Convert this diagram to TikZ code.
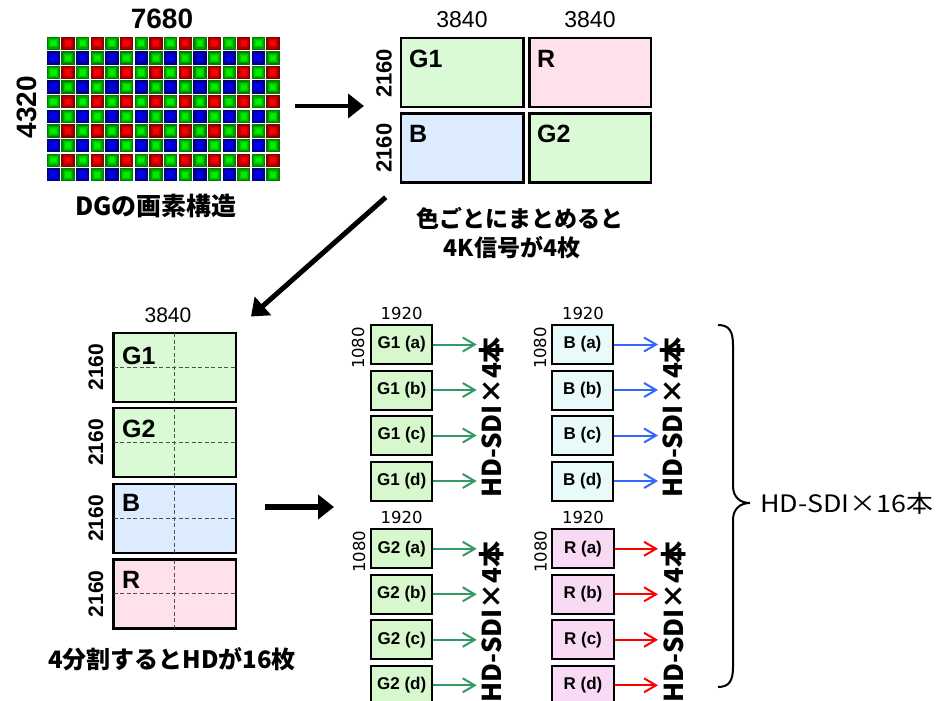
\documentclass[tikz,border=0pt]{standalone}
\usepackage{fontspec}
\setmainfont{Liberation Sans}
\newfontfamily\jp{Noto Sans CJK JP}
\newfontfamily\dvs{DejaVu Sans}
\usetikzlibrary{arrows.meta}
\definecolor{lgreen}{HTML}{D9FAD5}
\definecolor{lpink}{HTML}{FFE1EE}
\definecolor{lblue}{HTML}{DDEBFF}
\definecolor{sgreen}{HTML}{D6F8CC}
\definecolor{spink}{HTML}{F9DAF5}
\definecolor{sblue}{HTML}{E8FAFA}
\definecolor{agreen}{HTML}{339966}
\definecolor{ablue}{HTML}{3366FF}
\definecolor{ared}{HTML}{FF0000}
\definecolor{cG}{RGB}{0,240,0}
\definecolor{cR}{RGB}{250,0,0}
\definecolor{cB}{RGB}{0,0,240}
\newcommand{\bayercell}[3]{%
 \fill[#3!52!black] ({46.7+14.65*(#1)},{36.7+14.6*(#2)}) rectangle ++(13.3,13.3);
 \fill[#3!68!black] ({46.7+14.65*(#1)+1.3},{36.7+14.6*(#2)+1.3}) rectangle ++(10.7,10.7);
 \fill[#3!82!black] ({46.7+14.65*(#1)+2.5},{36.7+14.6*(#2)+2.5}) rectangle ++(8.3,8.3);
 \fill[#3!93!black] ({46.7+14.65*(#1)+3.5},{36.7+14.6*(#2)+3.5}) rectangle ++(6.3,6.3);
 \fill[#3] ({46.7+14.65*(#1)+4.4},{36.7+14.6*(#2)+4.4}) rectangle ++(4.5,4.5);
}
\tikzset{
 numbig/.style={font=\bfseries\fontsize{28}{28}\selectfont, inner sep=0},
 numreg/.style={font=\fontsize{23}{23}\selectfont, inner sep=0},
 numbold/.style={font=\bfseries\fontsize{22}{22}\selectfont, inner sep=0, rotate=90},
 numsmall/.style={font=\dvs\fontsize{16.5}{16.5}\selectfont, inner sep=0},
 jptext/.style={font=\jp\bfseries\fontsize{23}{23}\selectfont, inner sep=0},
 bigbox/.style={draw, line width=2.4, inner sep=0, minimum height=69},
 boxlbl/.style={font=\bfseries\fontsize{25}{25}\selectfont, inner sep=0, anchor=base west},
 sbox/.style={draw, line width=2, minimum width=61.3, minimum height=39, inner sep=0, font=\bfseries\fontsize{17}{17}\selectfont},
 hdsdi/.style={rotate=90, font=\jp\bfseries\fontsize{26}{26}\selectfont, inner sep=0},
 harrow/.style={-{Straight Barb[length=12pt,width=14pt]}, line width=2},
 bigarr/.style={-{Triangle[length=16pt,width=24pt]}, line width=4.5},
 dashline/.style={dashed, dash pattern=on 4pt off 2.5pt, draw={rgb,255:red,80;green,80;blue,80}, line width=1.2, shorten >=1.5pt, shorten <=1.5pt}
}
\begin{document}
\begin{tikzpicture}[x=1pt,y=-1pt]
\useasboundingbox (0,0) rectangle (946,701);
\fill[white] (0,0) rectangle (946,701);
% Bayer pattern
\foreach \j in {0,2,4,6,8}{\foreach \i in {0,2,4,6,8,10,12,14}{
 \bayercell{\i}{\j}{cG}
 \bayercell{\i+1}{\j}{cR}
 \bayercell{\i}{\j+1}{cB}
 \bayercell{\i+1}{\j+1}{cG}
}}
\node[numbig] (w7680) at (162,19) {7680};
\node[numbig, rotate=90] (h4320) at (27,107) {4320};
\node[jptext, font=\jp\bfseries\fontsize{25}{25}\selectfont] (dg) at (156,206) {DGの画素構造};
% arrow 1
\coordinate (a1s) at (295,106);
\coordinate (a1e) at (364,106);
\draw[bigarr] (a1s) -- (a1e);
% 4K boxes
\node[bigbox, fill=lgreen, minimum width=122.6] (G1) at (462,72.8) {};
\node[bigbox, fill=lpink, minimum width=121.7] (R) at (590.2,72.8) {};
\node[bigbox, fill=lblue, minimum width=122.6] (B) at (462,148) {};
\node[bigbox, fill=lgreen, minimum width=121.7] (G2) at (590.2,148) {};
\node[boxlbl] (G1l) at (409,68) {G1};
\node[boxlbl] (Rl) at (537,68) {R};
\node[boxlbl] (Bl) at (409,142.5) {B};
\node[boxlbl] (G2l) at (537,142.5) {G2};
\node[numreg] (t3840a) at (462,20) {3840};
\node[numreg] (t3840b) at (590,20) {3840};
\node[numbold] (t2160a) at (384,73.5) {2160};
\node[numbold] (t2160b) at (384,148) {2160};
\node[jptext] (c1) at (520,218) {色ごとにまとめると};
\node[jptext] (c2) at (512,247.5) {4K信号が4枚};
% diagonal arrow
\coordinate (a2s) at (385.7,197.3);
\coordinate (a2e) at (251,316.5);
\draw[bigarr, line width=5] (a2s) -- (a2e);
% left column
\node[numreg, font=\fontsize{21}{21}\selectfont] (t3840c) at (168,315) {3840};
\foreach \nm/\yy/\fc in {LG1/367.2/lgreen, LG2/442.5/lgreen, LB/518.4/lblue, LR/593.8/lpink}{
 \node[bigbox, fill=\fc, minimum width=122.7] (\nm) at (174.7,\yy) {};
 \draw[dashline] (\nm.north) -- (\nm.south);
 \draw[dashline] (\nm.west) -- (\nm.east);
 \node[numbold, font=\bfseries\fontsize{21}{21}\selectfont] (\nm h) at (96,\yy) {2160};
}
\node[boxlbl] (LG1l) at (122,364) {G1};
\node[boxlbl] (LG2l) at (122,437) {G2};
\node[boxlbl] (LBl) at (122,511) {B};
\node[boxlbl] (LRl) at (122,588) {R};
\node[jptext, font=\jp\bfseries\fontsize{24}{24}\selectfont] (c3) at (172,659) {4分割するとHDが16枚};
% arrow 3
\coordinate (a3s) at (265,507);
\coordinate (a3e) at (334,507);
\draw[bigarr, line width=5.5] (a3s) -- (a3e);
% HD boxes
\coordinate (tG) at (476.7,0);
\coordinate (tB) at (658,0);
\foreach \s [count=\n from 0] in {a,b,c,d}{
 \node[sbox, fill=sgreen] (g1\s) at (401.7,{344.5+45.5*\n}) {G1 (\s)};
 \draw[harrow, agreen] (g1\s.east) -- (g1\s.east -| tG);
 \node[sbox, fill=sblue] (b\s) at (582.5,{344.5+45.5*\n}) {B (\s)};
 \draw[harrow, ablue] (b\s.east) -- (b\s.east -| tB);
 \node[sbox, fill=sgreen] (g2\s) at (401.7,{548.8+45.5*\n}) {G2 (\s)};
 \draw[harrow, agreen] (g2\s.east) -- (g2\s.east -| tG);
 \node[sbox, fill=spink] (r\s) at (583,{548.8+45.5*\n}) {R (\s)};
 \draw[harrow, ared] (r\s.east) -- (r\s.east -| tB);
}
\node[numsmall] (n1) at (401.7,313) {1920};
\node[numsmall] (n2) at (583,313) {1920};
\node[numsmall] (n3) at (401.7,517.7) {1920};
\node[numsmall] (n4) at (583,517.7) {1920};
\node[numsmall, rotate=90] (m1) at (358,348) {1080};
\node[numsmall, rotate=90] (m2) at (540,348) {1080};
\node[numsmall, rotate=90] (m3) at (359,551.7) {1080};
\node[numsmall, rotate=90] (m4) at (540.5,551.7) {1080};
\node[hdsdi] (s1) at (491.5,417.5) {HD-SDI×4本};
\node[hdsdi] (s2) at (672.5,417.5) {HD-SDI×4本};
\node[hdsdi] (s3) at (491.5,621.8) {HD-SDI×4本};
\node[hdsdi] (s4) at (673.3,621.8) {HD-SDI×4本};
% brace
\coordinate (bt) at (718,325);
\coordinate (bm) at (750,503);
\coordinate (bb) at (718,687);
\draw[line width=2] (bt) .. controls (729,325) and (733,331) .. (733,345) -- (733,486) .. controls (733,497) and (740,503) .. (bm) .. controls (740,503) and (733,509) .. (733,520) -- (733,667) .. controls (733,681) and (729,687) .. (bb);
\node[inner sep=0, anchor=west, font=\jp\fontsize{24}{24}\selectfont] (tot) at (760,503) {\scalebox{1.12}[1]{HD-SDI×16本}};
\end{tikzpicture}
\end{document}
